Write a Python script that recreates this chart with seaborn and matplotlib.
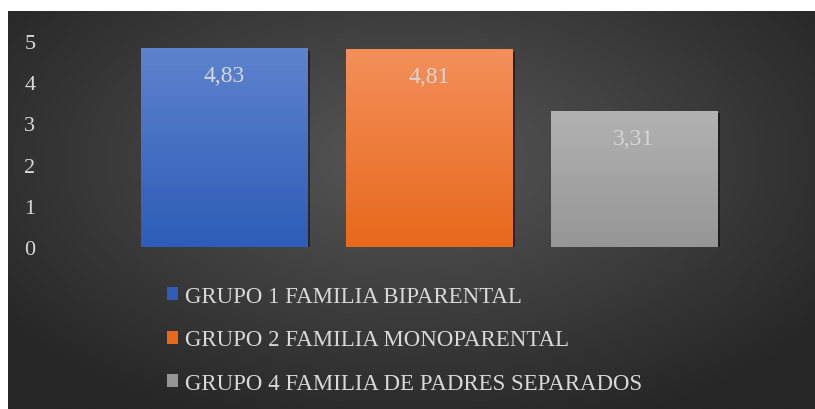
import matplotlib
matplotlib.use("Agg")
import matplotlib.pyplot as plt
import matplotlib.patheffects as pe
from matplotlib.colors import LinearSegmentedColormap
import numpy as np
import pandas as pd
import seaborn as sns

grupos = [
    "GRUPO 1 FAMILIA BIPARENTAL",
    "GRUPO 2 FAMILIA MONOPARENTAL",
    "GRUPO 4 FAMILIA DE PADRES SEPARADOS",
]
valores = [4.83, 4.81, 3.31]
etiquetas = ["4,83", "4,81", "3,31"]
color_arriba = ["#5d83cd", "#f3905a", "#b2b2b2"]
color_abajo = ["#2d5db7", "#e8691c", "#969696"]
yticks = [0, 1, 2, 3, 4, 5]

sns.set_style("white")
plt.rcParams["font.family"] = ["Liberation Serif", "DejaVu Serif"]

W, H = 815, 410
fig = plt.figure(figsize=(W / 100, H / 100), dpi=100, facecolor="white")

# dark radial background like the Office chart style
bg = fig.add_axes([8 / W, 0, (W - 8) / W, (H - 12) / H])
bg.set_axis_off()
gx, gy = np.meshgrid(np.linspace(-1, 1, 400), np.linspace(-1, 1, 200))
r = np.sqrt((gx * 0.9) ** 2 + ((gy + 0.25) * 0.8) ** 2)
r = np.clip(r / 1.15, 0, 1)
cmap_bg = LinearSegmentedColormap.from_list("bg", ["#575757", "#262626"])
bg.imshow(r, cmap=cmap_bg, aspect="auto", extent=[0, 1, 0, 1], vmin=0, vmax=1)
bg.set_xlim(0, 1)
bg.set_ylim(0, 1)

ax = fig.add_axes([121.5 / W, (H - 248) / H, 615 / W, 206 / H])
ax.patch.set_alpha(0)

df = pd.DataFrame({"grupo": grupos, "valor": valores})
sns.barplot(
    data=df, x="grupo", y="valor", hue="grupo",
    palette=dict(zip(grupos, color_abajo)), width=0.81,
    dodge=False, legend=True, linewidth=0, edgecolor="none", ax=ax,
)

# gradient fill + soft shadow on each bar
for patch, c_top, c_bot in zip(ax.patches[:len(grupos)], color_arriba, color_abajo):
    x0, y0 = patch.get_x(), patch.get_y()
    w, h = patch.get_width(), patch.get_height()
    patch.set_linewidth(0)
    patch.set_path_effects([
        pe.SimplePatchShadow(offset=(2, -2), shadow_rgbFace="black", alpha=0.45),
        pe.Normal(),
    ])
    grad = np.linspace(1, 0, 100).reshape(-1, 1)
    cm = LinearSegmentedColormap.from_list("g", [c_bot, c_top])
    im = ax.imshow(grad, cmap=cm, aspect="auto", extent=[x0, x0 + w, y0, y0 + h],
                   vmin=0, vmax=1, zorder=patch.get_zorder() + 0.1)
    im.set_clip_path(patch)

for i, (v, lab) in enumerate(zip(valores, etiquetas)):
    ax.annotate(lab, (i, v), xytext=(0, -20), textcoords="offset points",
                ha="center", va="center", fontsize=17, color="#d6d6d6", zorder=5)

ax.set_xlim(-0.5, 2.5)
ax.set_ylim(0, 5)
ax.set_yticks(yticks)
ax.set_yticklabels([str(t) for t in yticks])
ax.tick_params(axis="y", length=0, pad=62, labelsize=16, labelcolor="#d9d9d9")
ax.set_xticks([])
ax.set_xlabel("")
ax.set_ylabel("")
sns.despine(ax=ax, left=True, bottom=True)

leg = ax.legend(
    loc="upper left", bbox_to_anchor=(167 / W, (H - 287) / H),
    bbox_transform=fig.transFigure, frameon=False, fontsize=16.5,
    handlelength=0.5, handleheight=0.5, handletextpad=0.3,
    labelspacing=0.98, borderpad=0, borderaxespad=0,
)
for t in leg.get_texts():
    t.set_color("#d9d9d9")
for hnd, c in zip(leg.legend_handles, color_abajo):
    hnd.set_facecolor(c)
    hnd.set_edgecolor("none")
    hnd.set_linewidth(0)

fig.savefig("out.png", dpi=100, facecolor="white")
